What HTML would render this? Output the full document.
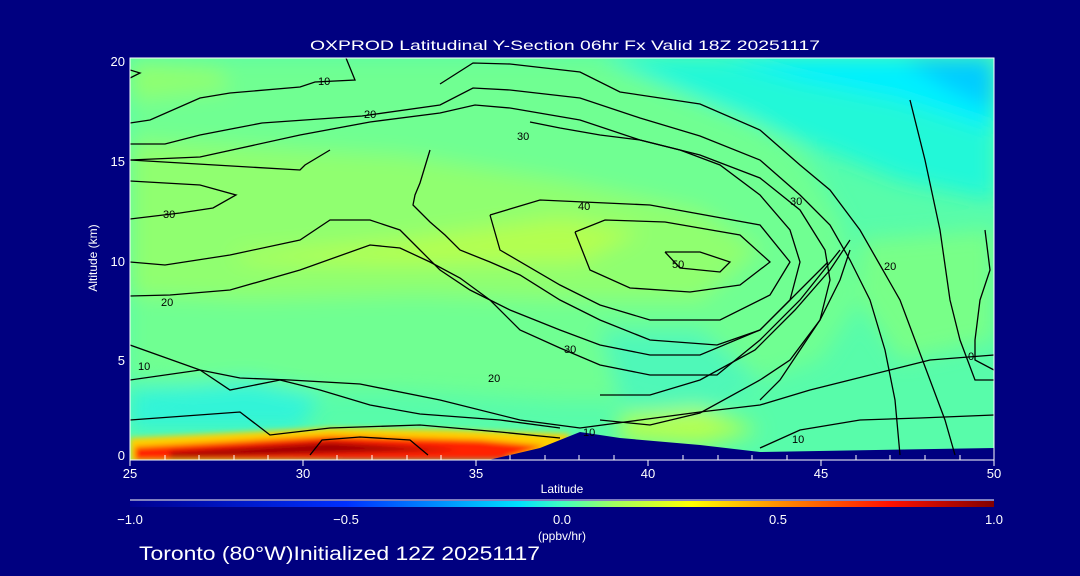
<!DOCTYPE html>
<html><head><meta charset="utf-8"><style>
html,body{margin:0;padding:0;background:#000080;}
svg{display:block}
text{font-family:"Liberation Sans",sans-serif;}
</style></head><body>
<svg width="1080" height="576" viewBox="0 0 1080 576" xmlns="http://www.w3.org/2000/svg">
<defs>
<filter id="b" x="-30%" y="-30%" width="160%" height="160%"><feGaussianBlur stdDeviation="10"/></filter>
<filter id="b2" x="-20%" y="-50%" width="140%" height="200%"><feGaussianBlur stdDeviation="3"/></filter>
<linearGradient id="cb" x1="0" x2="1">
<stop offset="0" stop-color="#000090"/><stop offset="0.25" stop-color="#0030ff"/>
<stop offset="0.45" stop-color="#00e0ff"/><stop offset="0.5" stop-color="#40ffc0"/>
<stop offset="0.56" stop-color="#a0ff60"/><stop offset="0.65" stop-color="#ffff00"/>
<stop offset="0.75" stop-color="#ff9000"/><stop offset="0.88" stop-color="#ff1000"/>
<stop offset="1" stop-color="#800000"/></linearGradient>
<clipPath id="pc"><rect x="130" y="58" width="864" height="402"/></clipPath>
</defs>
<text x="310" y="50" fill="#fff" font-size="14" textLength="510" lengthAdjust="spacingAndGlyphs">OXPROD Latitudinal Y-Section 06hr  Fx Valid 18Z 20251117</text>
<g clip-path="url(#pc)">
<rect x="130" y="58" width="864" height="402" fill="#58fcaa"/>
<g filter="url(#b)">
<polygon points="130,58 600,58 700,90 800,150 840,220 860,300 820,360 700,400 560,400 400,390 250,390 130,380" fill="#70ff92"/>
<polygon points="130,140 400,155 560,180 700,210 760,250 700,300 560,300 420,295 250,300 130,295" fill="#90ff70"/>
<polygon points="230,255 400,240 560,218 640,232 580,262 400,265 250,262" fill="#b4ff50"/>
<polygon points="130,62 220,70 230,90 130,100" fill="#90ff70"/>
<polygon points="600,58 994,58 994,200 900,180 800,140 700,100" fill="#20f8d8"/>
<polygon points="720,58 994,58 994,130 900,100 800,80" fill="#00f0ff"/>
<polygon points="900,58 994,58 994,110 950,90" fill="#00ccff"/>
<polygon points="860,240 994,230 994,340 900,360 860,300" fill="#78ff88"/>
<polygon points="130,390 250,380 320,395 300,430 130,430" fill="#30f4d8"/>
<polygon points="600,330 700,330 760,380 700,420 620,400" fill="#50f8b8"/>
<polygon points="620,415 700,408 760,430 700,445 620,440" fill="#b4ff50"/>
</g>
<g filter="url(#b2)">
<polygon points="130,438 330,428 450,430 570,434 560,458 130,462" fill="#ffd000"/>
<polygon points="135,447 330,436 480,440 545,446 500,460 135,460" fill="#ff2000"/>
<polygon points="170,452 330,442 460,450 170,458" fill="#a00000"/>
</g>
<polygon points="480,462 540,448 580,432 620,438 700,445 760,452 994,448 994,462" fill="#000080"/>
<g fill="none" stroke="#000" stroke-width="1.3">
<polyline points="130,123 150,120 200,98 230,93 300,87 315,82 355,80 346,58"/>
<polyline points="440,84 473,63 510,64 580,72 620,92 700,104 760,130 800,165 830,190 860,230 880,265 900,300 915,340 930,380 945,420 955,455"/>
<polyline points="130,144 165,144 200,135 262,123 362,116 440,105 473,88 510,90 580,98 640,118 700,136 760,160 800,195 830,225 850,260 870,300 885,350 895,400 900,455"/>
<polyline points="130,160 200,157 300,135 370,122 440,113 475,105 510,108 580,120 640,140 700,155 760,178 800,210 825,250 830,280 820,320 800,350 780,380 760,400"/>
<polyline points="130,70 140,73 130,78"/>
<polyline points="130,181 200,185 236,195 213,208 180,213 130,219"/>
<polyline points="130,160 300,170 305,165 330,150"/>
<polyline points="430,150 420,183 415,195 413,205 430,222 445,235 460,250 490,262 520,275 560,300 600,320 650,340 717,345 760,330 790,300 800,262 790,230 760,195 720,165 680,150 640,140 600,135 560,128 530,122"/>
<polyline points="490,215 540,200 650,205 760,225 790,262 770,295 720,320 650,320 600,305 560,285 500,250 490,215"/>
<polyline points="575,232 605,220 665,222 740,235 770,262 740,285 690,292 630,288 590,270 575,232"/>
<polyline points="665,252 700,252 730,262 720,272 680,268 665,252"/>
<polyline points="130,262 165,265 230,255 300,240 330,220 370,220 400,230 420,250 440,270 470,290 510,310 560,330 600,345 650,355 700,355 760,330 800,290 828,262"/>
<polyline points="130,296 170,295 230,290 300,270 370,245 400,248 430,262 460,278 490,300 520,330 560,348 600,365 650,375 717,375 760,340 800,300 840,250"/>
<polyline points="130,345 200,370 240,378 290,380 360,384 440,400 520,420 580,428 640,420 700,412 760,405 810,390 850,380 890,370 930,360 994,355"/>
<polyline points="130,380 200,370 230,390 280,380 320,390 370,405 420,414 500,420 560,428"/>
<polyline points="130,420 240,412 270,435 330,428 420,425 500,432 560,438"/>
<polyline points="310,455 322,440 360,437 410,440 428,455"/>
<polyline points="600,395 650,395 700,380 755,350 795,310 830,270 850,240"/>
<polyline points="600,420 650,425 700,413 760,380 790,360 820,320 840,280 850,250"/>
<polyline points="760,448 800,430 860,420 920,418 994,415"/>
<polyline points="910,100 925,160 940,230 950,300 960,340 975,380 994,380"/>
<polyline points="985,230 990,270 980,300 975,340 975,360 994,370"/>
</g>
<g fill="#000" font-size="11">
<text x="318" y="85">10</text><text x="364" y="118">20</text><text x="163" y="218">30</text>
<text x="161" y="306">20</text><text x="138" y="370">10</text><text x="517" y="140">30</text>
<text x="578" y="210">40</text><text x="672" y="268">50</text><text x="790" y="205">30</text>
<text x="564" y="353">30</text><text x="488" y="382">20</text><text x="884" y="270">20</text>
<text x="583" y="436">10</text><text x="792" y="443">10</text><text x="968" y="360">0</text>
</g>
</g>
<rect x="130" y="58" width="864" height="402" fill="none" stroke="#fff" stroke-width="1"/>
<g stroke="#fff" stroke-width="1">
<line x1="130" y1="460" x2="130" y2="466"/><line x1="303" y1="460" x2="303" y2="466"/><line x1="476" y1="460" x2="476" y2="466"/><line x1="648" y1="460" x2="648" y2="466"/><line x1="821" y1="460" x2="821" y2="466"/><line x1="994" y1="460" x2="994" y2="466"/>
</g>
<g stroke="#fff" stroke-width="1">
<path d="M165 460v-5M199 460v-5M234 460v-5M268 460v-5M337 460v-5M372 460v-5M407 460v-5M441 460v-5M510 460v-5M545 460v-5M579 460v-5M614 460v-5M683 460v-5M718 460v-5M752 460v-5M787 460v-5M856 460v-5M890 460v-5M925 460v-5M960 460v-5"/>
</g>
<g fill="#fff" font-size="13">
<text x="130" y="478" text-anchor="middle">25</text><text x="303" y="478" text-anchor="middle">30</text><text x="476" y="478" text-anchor="middle">35</text><text x="648" y="478" text-anchor="middle">40</text><text x="821" y="478" text-anchor="middle">45</text><text x="994" y="478" text-anchor="middle">50</text>
<text x="125" y="460" text-anchor="end">0</text><text x="125" y="365" text-anchor="end">5</text><text x="125" y="266" text-anchor="end">10</text><text x="125" y="166" text-anchor="end">15</text><text x="125" y="66" text-anchor="end">20</text>
<text x="562" y="493" text-anchor="middle" font-size="12">Latitude</text>
<text transform="translate(97,258) rotate(-90)" text-anchor="middle" font-size="12">Altitude (km)</text>
<text x="130" y="524" text-anchor="middle">−1.0</text><text x="346" y="524" text-anchor="middle">−0.5</text><text x="562" y="524" text-anchor="middle">0.0</text><text x="778" y="524" text-anchor="middle">0.5</text><text x="994" y="524" text-anchor="middle">1.0</text>
<text x="562" y="540" text-anchor="middle" font-size="12">(ppbv/hr)</text>
<text x="139" y="560" font-size="19" textLength="401" lengthAdjust="spacingAndGlyphs">Toronto (80°W)Initialized 12Z 20251117</text>
</g>
<line x1="130" y1="500" x2="994" y2="500" stroke="#fff"/>
<rect x="130" y="501" width="864" height="6" fill="url(#cb)"/>
</svg>
</body></html>
